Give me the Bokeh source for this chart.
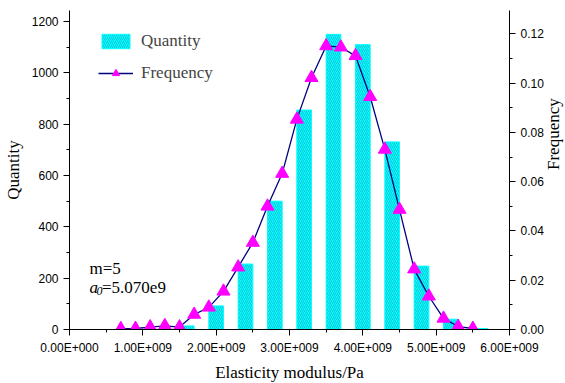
import math
from bokeh.plotting import figure
from bokeh.models import (Range1d, LinearAxis, SingleIntervalTicker, CustomJSTickFormatter,
                          NumeralTickFormatter, Legend, LegendItem, Label)
from bokeh.embed import file_html
from bokeh.resources import INLINE

# ---------------- data ----------------
bar_x = [1.6e9, 2.0e9, 2.4e9, 2.8e9, 3.2e9, 3.6e9, 4.0e9, 4.4e9, 4.8e9, 5.2e9, 5.6e9]
quantity = [14, 92, 255, 500, 855, 1150, 1110, 731, 247, 40, 4]

freq_x = [0.7e9, 0.9e9, 1.1e9, 1.3e9, 1.5e9, 1.7e9, 1.9e9, 2.1e9, 2.3e9, 2.5e9, 2.7e9, 2.9e9,
          3.1e9, 3.3e9, 3.5e9, 3.7e9, 3.9e9, 4.1e9, 4.3e9, 4.5e9, 4.7e9, 4.9e9, 5.1e9, 5.3e9, 5.5e9]
frequency = [0.0003, 0.0004, 0.0010, 0.0015, 0.0010, 0.0061, 0.0090, 0.0155, 0.0253, 0.0353,
             0.0500, 0.0633, 0.0853, 0.1022, 0.1151, 0.1146, 0.1111, 0.0945, 0.0731, 0.0487,
             0.0245, 0.0135, 0.0045, 0.0012, 0.0004]

SANS = "Liberation Sans"
SERIF = "Liberation Serif"

p = figure(width=565, height=380, output_backend="svg", toolbar_location=None,
           x_range=Range1d(0, 6e9), y_range=Range1d(0, 1243),
           frame_width=440, frame_height=319,
           min_border_left=67, min_border_right=58, min_border_top=10, min_border_bottom=51)
p.extra_y_ranges = {"freq": Range1d(0, 0.1295)}
p.outline_line_color = None
p.grid.visible = False
p.background_fill_color = "white"
p.border_fill_color = "white"

bars = p.vbar(x=bar_x, top=quantity, width=0.2e9, bottom=0,
              fill_color="#00FFFF", line_color="#00FFFF", line_width=1,
              hatch_pattern="/", hatch_color="#22aac4", hatch_alpha=0.7,
              hatch_scale=4, hatch_weight=1)

ln = p.line(freq_x, frequency, y_range_name="freq", line_color="#000080", line_width=1.3)
mk = p.scatter(freq_x, frequency, y_range_name="freq", marker="triangle", size=13,
               fill_color="#FF00FF", line_color="#FF00FF")

def style_axis(ax, interval, minor):
    ax.ticker = SingleIntervalTicker(interval=interval, num_minor_ticks=minor)
    ax.axis_line_color = "black"
    ax.major_tick_line_color = "black"
    ax.minor_tick_line_color = "black"
    ax.major_tick_in = 0
    ax.major_tick_out = 6
    ax.minor_tick_in = 0
    ax.minor_tick_out = 3
    ax.major_label_text_font = SANS
    ax.major_label_text_font_size = "12px"
    ax.major_label_text_color = "black"
    ax.axis_label_text_font = SERIF
    ax.axis_label_text_font_size = "17px"
    ax.axis_label_text_font_style = "normal"
    ax.axis_label_text_color = "black"
    ax.major_label_standoff = 5

xa = p.xaxis[0]
style_axis(xa, 1e9, 2)
xa.axis_label = "Elasticity modulus/Pa"
xa.axis_label_standoff = 5
xa.formatter = CustomJSTickFormatter(code="""
    if (tick === 0) { return "0.00E+000"; }
    const e = Math.floor(Math.log10(Math.abs(tick)) + 1e-9);
    const m = tick / Math.pow(10, e);
    return m.toFixed(2) + "E+" + String(e).padStart(3, "0");
""")

ya = p.yaxis[0]
style_axis(ya, 200, 2)
ya.axis_label = "Quantity"
ya.axis_label_standoff = 6

ra = LinearAxis(y_range_name="freq", axis_label="Frequency")
style_axis(ra, 0.02, 2)
ra.formatter = NumeralTickFormatter(format="0.00")
ra.axis_label_standoff = 7
ra.axis_label_orientation = math.pi / 2
p.add_layout(ra, "right")

legend = Legend(items=[LegendItem(label="Quantity", renderers=[bars]),
                       LegendItem(label="Frequency", renderers=[ln, mk])],
                location=(29, 246), orientation="vertical",
                glyph_width=35, glyph_height=18, label_height=18, spacing=12,
                padding=0, margin=0, label_standoff=8,
                label_text_font=SERIF, label_text_font_size="17px",
                border_line_color=None, background_fill_alpha=0)
p.add_layout(legend, "center")

# annotation (m=5, a0=5.070e9), placed relative to the frame
def px_x(px):
    return (px - 67) / 440 * 6e9
def px_y(py):
    return (328.3 - py) / 318.3 * 1243

p.add_layout(Label(x=px_x(87), y=px_y(267), text="m=5", text_font=SERIF,
                   text_font_size="17px", text_baseline="alphabetic", text_color="black"))
p.add_layout(Label(x=px_x(87), y=px_y(286), text="a", text_font=SERIF, text_font_style="italic",
                   text_font_size="17px", text_baseline="alphabetic", text_color="black"))
p.add_layout(Label(x=px_x(94), y=px_y(290), text="0", text_font=SERIF, text_font_style="italic",
                   text_font_size="12px", text_baseline="alphabetic", text_color="black"))
p.add_layout(Label(x=px_x(99.5), y=px_y(286), text="=5.070e9", text_font=SERIF,
                   text_font_size="17px", text_baseline="alphabetic", text_color="black"))

open("out.html", "w").write(file_html(p, INLINE))
